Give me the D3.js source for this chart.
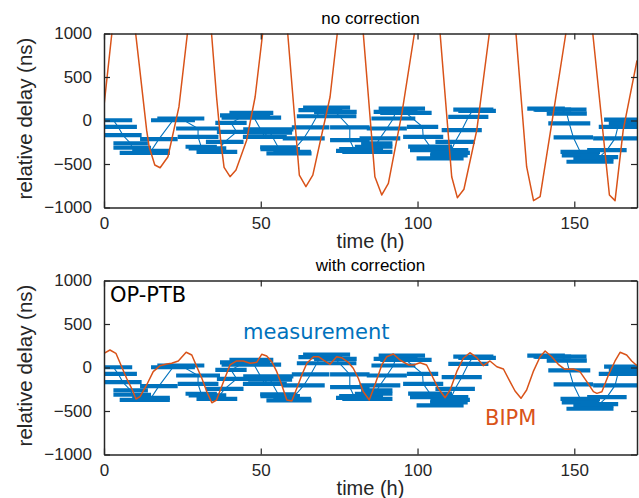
<!DOCTYPE html>
<html><head><meta charset="utf-8">
<script src="https://cdn.jsdelivr.net/npm/d3@7"></script>
<style>
body{margin:0;background:#fff}
text{font-family:"Liberation Sans",Arial,sans-serif}
</style>
</head><body>
<svg id="c" width="639" height="498"></svg>
<script>
// ---------------- data ----------------
const xTicks = [0, 50, 100, 150];
const yTicks = [-1000, -500, 0, 500, 1000];
const titles = ["no correction", "with correction"];

// BIPM, no correction (orange, clipped above 1000)
const bipmRawT = [0,2.5,4,6,8,10.1,11.2,13.6,14.4,16.2,17.9,20.4,23.9,26.6,28.5,30.5,32.5,34.3,35.9,37.2,38.3,40.2,42.1,45.5,48.2,50.6,52.5,54.5,56.7,58.6,62.3,64.4,66.6,72.1,74.4,76.5,78.5,80.7,82.7,86.4,88.6,90.7,95,99,101,103,105.2,107.2,110.9,112.7,114.8,118.9,122.9,125,127,129.3,131.4,134.8,137,139.1,143.3,147.3,149.5,151.5,153.8,155.9,161.2,163,165.6,170];
const bipmRawV = [170,1000,1500,1750,1500,1000,653,-111,-302,-512,-543,-417,156,1000,1600,1800,1550,1000,270,-226,-538,-646,-569,-226,270,1000,1650,1850,1600,1000,-627,-760,-627,270,1000,1700,1900,1650,1000,-646,-856,-722,80,1000,1700,1900,1650,1000,-646,-887,-790,-111,1000,1700,1900,1650,1000,-531,-921,-875,80,1000,1700,1900,1650,1000,-856,-921,-111,690];

// BIPM, with correction
const bipmCorT = [0,1.9,3.8,7.2,8.8,10.2,11.5,13.6,15.7,17.9,20,21.6,23.7,26.2,28,29.6,31.2,32.8,34.4,35.9,38.1,40.2,42.3,44.4,46.6,48.7,50.3,51.9,53.5,55.1,56.7,58.3,59.9,61.5,63.1,64.7,66.8,68.4,70,72.1,74.2,75.8,77.9,79.5,81.1,82.7,84.6,86.4,88.6,90.2,92.3,94.4,97.1,98.7,100.8,102.9,104.5,106.6,108.8,110.4,112.5,114.6,116.7,118.9,121,123.1,125.3,127.4,129.5,131.1,133,134.8,136.9,139.1,140.7,142.8,144.9,147,149.7,151.8,154,156.1,157.2,158.8,160.9,163,164.6,166.7,168.3,170];
const bipmCorV = [163,201,163,-124,-239,-362,-335,-201,-48,21,40,48,75,175,144,9,-124,-278,-405,-374,-163,29,75,75,48,60,152,132,67,-48,-201,-374,-385,-239,-86,48,124,124,86,37,124,113,60,-9,-124,-278,-374,-201,29,124,155,86,29,29,55,29,-86,-239,-347,-259,-48,106,170,113,21,75,9,-17,-163,-270,-354,-259,-48,124,190,124,37,-21,-17,-48,-163,-278,-297,-278,-86,75,175,144,75,21];

// OP-PTB measurement: centre time (h), value (ns), half-width of the time bar (h)
const measT = [3,4.5,6,8.5,9,13,15,17.5,22,24.5, 30,30,31,33,36,38.5,42.3,40.5,45,47,47, 51.3,52.4,53,55.6,56.2,59,60,63.7,65.9,69,71,71,73.8, 78.4,78.4,80,82,84,86,87,88,90.2,92.3,93,95,96.3, 101.6,101.8,104,106.9,107.2,110,110.4,112,114.1,116.2,117.8,119, 141,143,145.7,147.6,148.4,149.7,151.9,152,155,156.1,158,160.4,163,163.9,166,166];
const measV = [3,-73,-168,-264,-313,-371,-350,-214,3,23, -92,-188,-302,-320,-360,-245,-130,-27,60,34,87, -188,-103,-140,-310,-329,-378,-360,-206,-80,120,49,149,99, -80,-226,-348,-330,-360,-302,-264,-206,-92,23,100,137,87, -73,-188,-300,-340,-435,-400,-371,-245,-111,41,126,110, 137,126,126,80,-34,-195,-360,-400,-474,-435,-420,-340,-206,-73,-30,11];
const measH = [6,6,6,5.5,6,8,6,6,7,7.5, 7,6.5,5,6,6.5,6,6.3,5,8,9.5,7, 7,8,7,5.8,6.3,7.2,6,6.7,6,7,9.5,7.5,6.8, 6.3,6.3,6,7,8,6,5,6.5,6.4,7,7,7.4,8.2, 5,6.4,7,9.3,7.5,6,6.3,6.3,6.4,6.4,6.4,6, 6,6,8.2,6.4,6.7,6.3,6.3,6,7.5,6.4,6,6.3,7,6.1,5,6.5];

// ---------------- drawing ----------------
const blue = "#0072BD", orange = "#D95319", axisCol = "#262626";
const svg = d3.select("#c");
const L = 104, R = 637;
const x = d3.scaleLinear().domain([0, 170]).range([L, R]);
const panels = [
  {top: 33.5, bottom: 207.5, t: bipmRawT, v: bipmRawV},
  {top: 280.5, bottom: 454.5, t: bipmCorT, v: bipmCorV}
];

const meas = measT.map((t, i) => ({t, v: measV[i], h: measH[i]}));
// split thin line where there is a data gap
const segs = [[]];
meas.forEach((d, i) => {
  if (i > 0 && d.t - meas[i-1].t > 15) segs.push([]);
  segs[segs.length-1].push(d);
});

panels.forEach((p, pi) => {
  const y = d3.scaleLinear().domain([-1000, 1000]).range([p.bottom, p.top]);
  const g = svg.append("g");
  const cid = "clip" + pi;
  g.append("clipPath").attr("id", cid).append("rect")
    .attr("x", L).attr("y", p.top).attr("width", R - L).attr("height", p.bottom - p.top);
  const plot = g.append("g").attr("clip-path", `url(#${cid})`);

  // thin measurement line
  const line = d3.line().x(d => x(d.t)).y(d => y(d.v));
  segs.forEach(s => plot.append("path").attr("d", line(s))
    .attr("fill", "none").attr("stroke", blue).attr("stroke-width", 1.1));
  // time bars
  plot.selectAll("line.bar").data(meas).join("line").attr("class", "bar")
    .attr("x1", d => x(d.t - d.h)).attr("x2", d => x(d.t + d.h))
    .attr("y1", d => y(d.v)).attr("y2", d => y(d.v))
    .attr("stroke", blue).attr("stroke-width", 4.2);

  // BIPM line
  const bl = d3.line().x(d => x(d[0])).y(d => y(d[1]));
  plot.append("path").attr("d", bl(p.t.map((t, i) => [t, p.v[i]])))
    .attr("fill", "none").attr("stroke", orange).attr("stroke-width", 1.5)
    .attr("stroke-linejoin", "round");

  // axes (MATLAB style: inward ticks, box)
  const fs = 17;
  const fmt = d3.format("d");
  const ax = (a) => a.tickSizeOuter(0).tickSizeInner(-6);
  const gl = g.append("g").attr("transform", `translate(${L},0)`)
    .call(ax(d3.axisLeft(y).tickValues(yTicks).tickFormat(fmt)).tickPadding(12));
  const gb = g.append("g").attr("transform", `translate(0,${p.bottom})`)
    .call(ax(d3.axisBottom(x).tickValues(xTicks).tickFormat(fmt)).tickPadding(9));
  const gr = g.append("g").attr("transform", `translate(${R},0)`)
    .call(ax(d3.axisRight(y).tickValues(yTicks)).tickFormat(""));
  const gt = g.append("g").attr("transform", `translate(0,${p.top})`)
    .call(ax(d3.axisTop(x).tickValues(xTicks)).tickFormat(""));
  [gl, gb, gr, gt].forEach(a => {
    a.selectAll("path.domain").attr("stroke", axisCol).attr("stroke-width", 1.5);
    a.selectAll(".tick line").attr("stroke", axisCol).attr("stroke-width", 1.2);
    a.selectAll("text").attr("fill", axisCol).style("font-size", fs + "px")
      .style("font-family", '"Liberation Sans",Arial,sans-serif');
  });

  // title
  g.append("text").attr("x", (L + R) / 2).attr("y", p.top - 10)
    .attr("text-anchor", "middle").attr("fill", "#000").style("font-size", "17px")
    .text(titles[pi]);
  // x label
  g.append("text").attr("x", (L + R) / 2).attr("y", p.bottom + 40)
    .attr("text-anchor", "middle").attr("fill", axisCol).style("font-size", "20px")
    .text("time (h)");
  // y label
  g.append("text").attr("transform", `translate(32,${(p.top + p.bottom) / 2 - 2}) rotate(-90)`)
    .attr("text-anchor", "middle").attr("fill", axisCol).style("font-size", "20.5px")
    .text("relative delay (ns)");
});

// annotations in bottom panel
const ann = svg.append("g").style("font-size", "21px");
ann.append("text").attr("x", 110).attr("y", 302).attr("fill", "#000").style("font-family", '"DejaVu Sans",sans-serif').text("OP-PTB");
ann.append("text").attr("x", 243).attr("y", 339).attr("fill", blue).style("font-family", '"DejaVu Sans",sans-serif').text("measurement");
ann.append("text").attr("x", 485).attr("y", 425).attr("fill", orange).style("font-family", '"DejaVu Sans",sans-serif').text("BIPM");
</script>
</body></html>
